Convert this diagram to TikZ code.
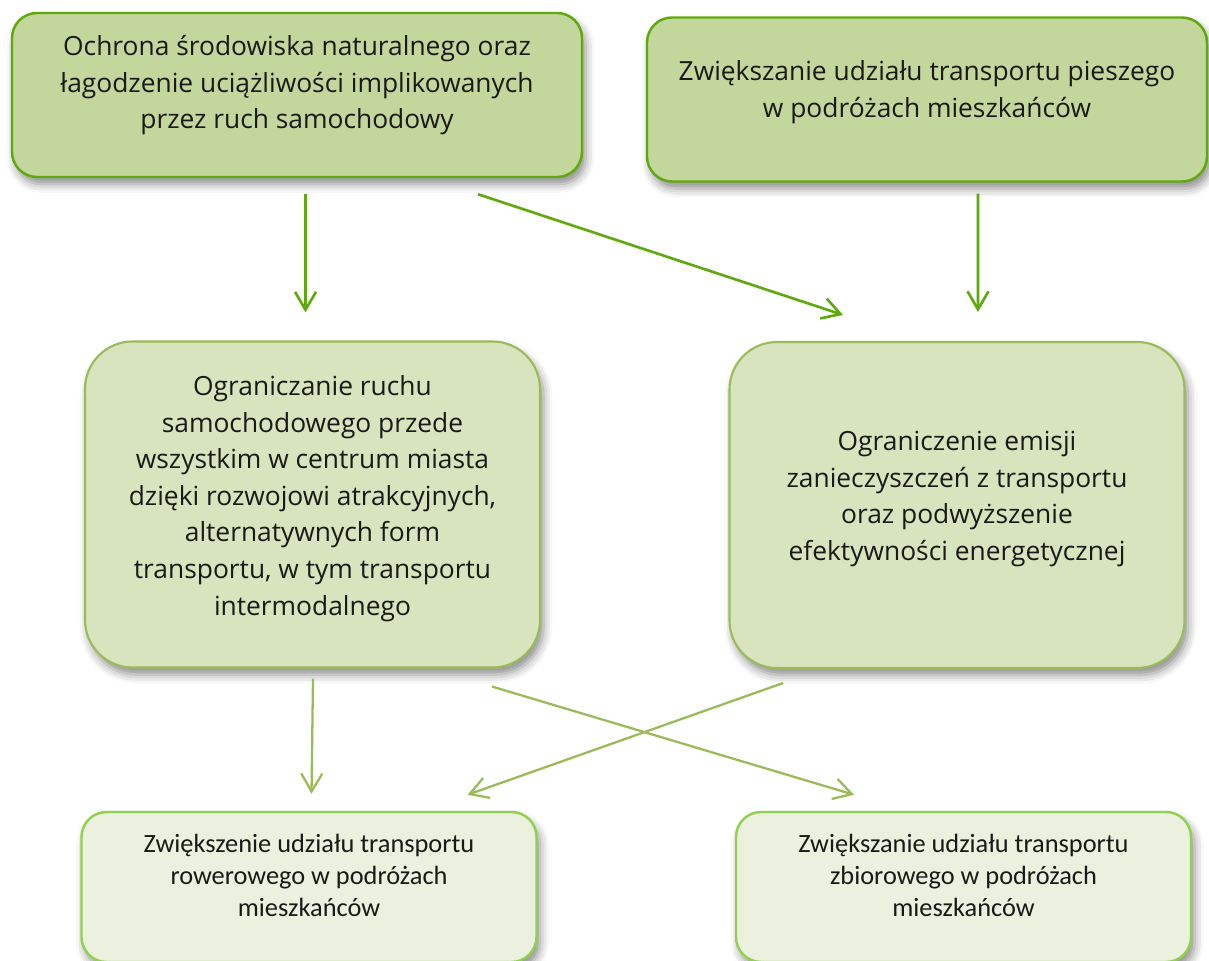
\documentclass[tikz,border=0pt]{standalone}
\usepackage{fontspec}
\setmainfont{Open Sans}
\newfontfamily\carlito{Carlito}
\usetikzlibrary{arrows.meta,shadows.blur}

\definecolor{topfill}{HTML}{C3D69B}
\definecolor{topline}{HTML}{60A810}
\definecolor{midfill}{HTML}{D7E4BD}
\definecolor{midline}{HTML}{9BBB59}
\definecolor{botfill}{HTML}{EBF1DE}
\definecolor{botline}{HTML}{92D050}

\begin{document}
\begin{tikzpicture}[
  shade box/.style={blur shadow={shadow xshift=2pt, shadow yshift=-4pt,
      shadow blur radius=5pt, shadow opacity=45}},
  topbox/.style={shade box, draw=topline, fill=topfill, line width=1.4pt,
      rounded corners=0.5cm, minimum height=3.28cm},
  midbox/.style={shade box, draw=midline, fill=midfill, line width=1.2pt,
      rounded corners=0.95cm, minimum width=9.1cm, minimum height=6.52cm},
  botbox/.style={shade box, draw=botline, fill=botfill, line width=1.4pt,
      rounded corners=0.5cm, minimum width=9.1cm, minimum height=3.0cm},
  bigtext/.style={align=center, text=black!90, font=\fontsize{15}{20.8}\selectfont},
  smalltext/.style={align=center, text=black!90, font=\carlito\fontsize{15}{18.2}\selectfont},
  toparrow/.style={topline, line width=1.5pt,
      -{Straight Barb[length=0.36cm, width=0.42cm]}},
  botarrow/.style={midline, line width=1.3pt,
      -{Straight Barb[length=0.36cm, width=0.42cm]}}
]
  \useasboundingbox (0,0) rectangle (24.18,-19.22);

  % Top goals
  \node[topbox, minimum width=11.4cm] (nature) at (5.94,-1.90) {};
  \node[bigtext] (natureT) at ([yshift=0.19cm]nature.center)
    {Ochrona środowiska naturalnego oraz\\łagodzenie uciążliwości implikowanych\\przez ruch samochodowy};
  \node[topbox, minimum width=11.2cm] (walk) at (18.54,-1.99) {};
  \node[bigtext] (walkT) at ([yshift=0.15cm]walk.center)
    {Zwiększanie udziału transportu pieszego\\w podróżach mieszkańców};

  % Middle goals
  \node[midbox] (traffic) at (6.25,-10.09) {};
  \node[bigtext] (trafficT) at ([yshift=0.12cm]traffic.center)
    {Ograniczanie ruchu\\samochodowego przede\\wszystkim w centrum miasta\\dzięki rozwojowi atrakcyjnych,\\alternatywnych form\\transportu, w tym transportu\\intermodalnego};
  \node[midbox] (emission) at (19.14,-10.10) {};
  \node[bigtext] (emissionT) at ([yshift=0.12cm]emission.center)
    {Ograniczenie emisji\\zanieczyszczeń z transportu\\oraz podwyższenie\\efektywności energetycznej};

  % Bottom goals
  \node[botbox] (bike) at (6.18,-17.74) {};
  \node[smalltext] (bikeT) at ([yshift=0.24cm]bike.center)
    {Zwiększenie udziału transportu\\rowerowego w podróżach\\mieszkańców};
  \node[botbox] (public) at (19.27,-17.74) {};
  \node[smalltext] (publicT) at ([yshift=0.24cm]public.center)
    {Zwiększanie udziału transportu\\zbiorowego w podróżach\\mieszkańców};

  % Arrows
  \draw[toparrow] ([xshift=0.17cm,yshift=-0.32cm]nature.south) -- ([xshift=-0.14cm,yshift=0.56cm]traffic.north);
  \draw[toparrow] ([xshift=3.62cm,yshift=-0.32cm]nature.south) -- ([xshift=-2.28cm,yshift=0.52cm]emission.north);
  \draw[toparrow] ([xshift=1.02cm,yshift=-0.22cm]walk.south) -- ([xshift=0.42cm,yshift=0.58cm]emission.north);
  \draw[botarrow] ([xshift=0.01cm,yshift=-0.2cm]traffic.south) -- ([xshift=0.05cm,yshift=0.34cm]bike.north);
  \draw[botarrow] ([xshift=3.59cm,yshift=-0.36cm]traffic.south) -- ([xshift=-2.19cm,yshift=0.32cm]public.north);
  \draw[botarrow] ([xshift=-3.48cm,yshift=-0.28cm]emission.south) -- ([xshift=3.17cm,yshift=0.32cm]bike.north);
\end{tikzpicture}
\end{document}
